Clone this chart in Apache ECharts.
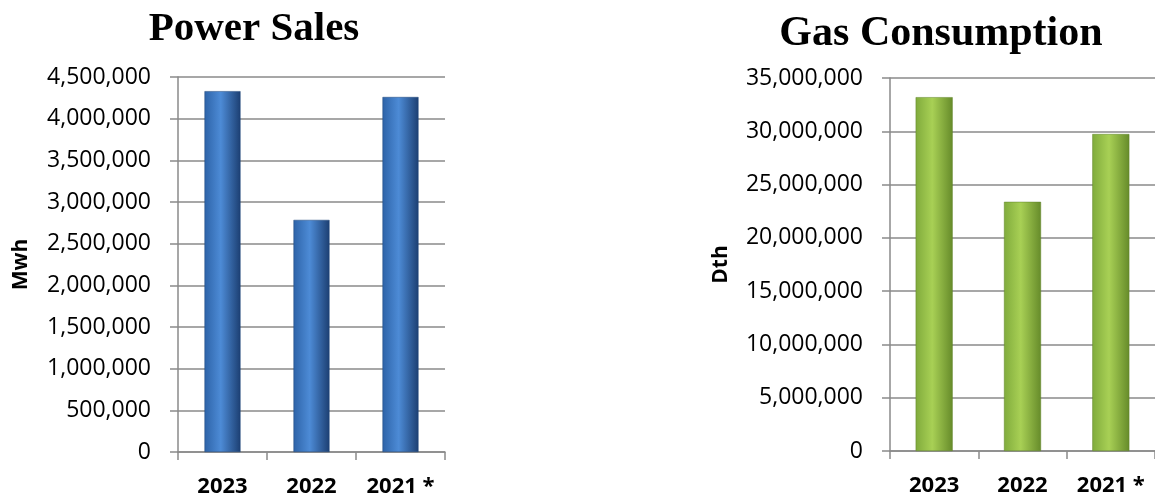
<!DOCTYPE html>
<html>
<head>
<meta charset="utf-8">
<script src="https://cdn.jsdelivr.net/npm/echarts@6/dist/echarts.min.js"></script>
<style>
html,body{margin:0;padding:0;background:#fff;}
#c{width:1155px;height:499px;}
</style>
</head>
<body>
<div id="c"></div>
<script>
const categories = ['2023', '2022', '2021 *'];
const powerSales = [4330000, 2785000, 4260000];
const gasConsumption = [33200000, 23380000, 29740000];
const powerTitle = 'Power Sales';
const gasTitle = 'Gas Consumption';
const powerUnit = 'Mwh';
const gasUnit = 'Dth';

const chart = echarts.init(document.getElementById('c'), null, {renderer: 'canvas'});
const fmt = v => Number(v).toLocaleString('en-US');
const grad = (a, b, c) => new echarts.graphic.LinearGradient(0, 0, 1, 0, [
  {offset: 0, color: a}, {offset: 0.45, color: b}, {offset: 1, color: c}
]);
const axisGray = '#8a8a8a';
const yLabel = {fontFamily: 'Open Sans', fontSize: 23, color: '#000', margin: 27, formatter: fmt};
const xLabel = {fontFamily: 'Open Sans', fontSize: 22, fontWeight: 'bold', color: '#000', margin: 24, interval: 0};

chart.setOption({
  animation: false,
  title: [
    {text: powerTitle, left: 249, top: 4, textAlign: 'center',
     textStyle: {fontFamily: 'Liberation Serif', fontWeight: 'bold', fontSize: 41, color: '#000'}},
    {text: gasTitle, left: 936, top: 8, textAlign: 'center',
     textStyle: {fontFamily: 'Liberation Serif', fontWeight: 'bold', fontSize: 42, color: '#000'}}
  ],
  grid: [
    {left: 178, right: 710, top: 77, bottom: 47},
    {left: 890, right: -9, top: 78, bottom: 48}
  ],
  xAxis: [0, 1].map(i => ({
    type: 'category', gridIndex: i, data: categories,
    axisLine: {lineStyle: {color: axisGray, width: 1.5}},
    axisTick: {show: true, length: 8, interval: 0, lineStyle: {color: axisGray, width: 1.5}},
    axisLabel: xLabel
  })),
  yAxis: [
    {type: 'value', gridIndex: 0, min: 0, max: 4500000, interval: 500000,
     name: powerUnit, nameLocation: 'middle', nameGap: 146,
     nameTextStyle: {fontFamily: 'Open Sans', fontWeight: 'bold', fontSize: 21, color: '#000'},
     axisLine: {show: true, lineStyle: {color: axisGray, width: 1.5}},
     axisTick: {show: true, length: 8, lineStyle: {color: axisGray, width: 1.5}},
     splitLine: {lineStyle: {color: axisGray, width: 1.5}},
     axisLabel: yLabel},
    {type: 'value', gridIndex: 1, min: 0, max: 35000000, interval: 5000000,
     name: gasUnit, nameLocation: 'middle', nameGap: 158,
     nameTextStyle: {fontFamily: 'Open Sans', fontWeight: 'bold', fontSize: 21, color: '#000'},
     axisLine: {show: true, lineStyle: {color: axisGray, width: 1.5}},
     axisTick: {show: true, length: 8, lineStyle: {color: axisGray, width: 1.5}},
     splitLine: {lineStyle: {color: axisGray, width: 1.5}},
     axisLabel: yLabel}
  ],
  series: [
    {type: 'bar', xAxisIndex: 0, yAxisIndex: 0, data: powerSales, barWidth: 36,
     itemStyle: {color: grad('#2d63a8', '#4d8bd6', '#1c3f72'), borderColor: '#1d4478', borderWidth: 0.5}},
    {type: 'bar', xAxisIndex: 1, yAxisIndex: 1, data: gasConsumption, barWidth: 37,
     itemStyle: {color: grad('#80ab3c', '#a8d055', '#668b2a'), borderColor: '#5f8227', borderWidth: 0.5}}
  ]
});
</script>
</body>
</html>
